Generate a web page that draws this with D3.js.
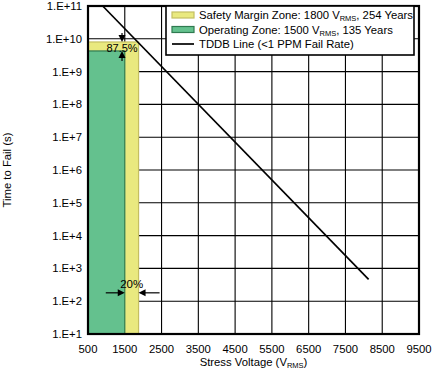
<!DOCTYPE html>
<html>
<head>
<meta charset="utf-8">
<script src="https://cdn.jsdelivr.net/npm/d3@7"></script>
<style>
  body { margin: 0; background: #fff; }
  svg text { font-family: "Liberation Sans", Arial, sans-serif; fill: #000; }
</style>
</head>
<body>
<div id="chart"></div>
<script>
// Axis ticks
var xTicks = [500, 1500, 2500, 3500, 4500, 5500, 6500, 7500, 8500, 9500];
var yTicks = [1e1, 1e2, 1e3, 1e4, 1e5, 1e6, 1e7, 1e8, 1e9, 1e10, 1e11];
var yTickLabels = ["1.E+1", "1.E+2", "1.E+3", "1.E+4", "1.E+5", "1.E+6", "1.E+7", "1.E+8", "1.E+9", "1.E+10", "1.E+11"];

// Zones (safety margin drawn first, operating zone on top)
var zoneNames = ["Safety Margin Zone", "Operating Zone"];
var zoneVoltage = [1875, 1500];
var zoneTime = [8.0e9, 4.26e9];
var zoneFill = ["#e9e97f", "#64c18e"];
var zoneStroke = ["#c4bf62", "#2f7a50"];

// TDDB line end points
var tddbVoltage = [900, 8130];
var tddbTime = [1.0e11, 4.6e2];

// Legend rows: before subscript, subscript, after subscript
var legendText = [
    ["Safety Margin Zone: 1800 V", "RMS", ", 254 Years"],
    ["Operating Zone: 1500 V", "RMS", ", 135 Years"],
    ["TDDB Line (<1 PPM Fail Rate)", "", ""]
];

var svgWidth = 436, svgHeight = 371;
var margin = { top: 6, right: 17, bottom: 37, left: 88 };
var chartWidth = svgWidth - margin.left - margin.right;
var chartHeight = svgHeight - margin.top - margin.bottom;

var svg = d3.select("#chart").append("svg")
    .attr("width", svgWidth)
    .attr("height", svgHeight);

var chartGroup = svg.append("g")
    .attr("transform", `translate(${margin.left}, ${margin.top})`);

var xScale = d3.scaleLinear().domain([500, 9500]).range([0, chartWidth]);
var yScale = d3.scaleLog().domain([1e1, 1e11]).range([chartHeight, 0]);

// grid lines
chartGroup.append("g")
    .selectAll("line")
    .data(xTicks)
    .enter()
    .append("line")
    .attr("x1", d => xScale(d)).attr("x2", d => xScale(d))
    .attr("y1", 0).attr("y2", chartHeight)
    .attr("stroke", "#000").attr("stroke-width", 1.1);

chartGroup.append("g")
    .selectAll("line")
    .data(yTicks)
    .enter()
    .append("line")
    .attr("x1", 0).attr("x2", chartWidth)
    .attr("y1", d => yScale(d)).attr("y2", d => yScale(d))
    .attr("stroke", "#000").attr("stroke-width", 1.1);

// zones
chartGroup.append("g")
    .selectAll("rect")
    .data(zoneNames)
    .enter()
    .append("rect")
    .attr("x", 0)
    .attr("y", (d, i) => yScale(zoneTime[i]))
    .attr("width", (d, i) => xScale(zoneVoltage[i]))
    .attr("height", (d, i) => chartHeight - yScale(zoneTime[i]))
    .attr("fill", (d, i) => zoneFill[i])
    .attr("stroke", (d, i) => zoneStroke[i])
    .attr("stroke-width", 1.2);

// TDDB line
var line = d3.line()
    .x(d => xScale(d[0]))
    .y(d => yScale(d[1]));
chartGroup.append("path")
    .datum(tddbVoltage.map((v, i) => [v, tddbTime[i]]))
    .attr("d", line)
    .attr("fill", "none")
    .attr("stroke", "#000")
    .attr("stroke-width", 1.7);

// frame
chartGroup.append("rect")
    .attr("x", 0).attr("y", 0)
    .attr("width", chartWidth).attr("height", chartHeight)
    .attr("fill", "none")
    .attr("stroke", "#000")
    .attr("stroke-width", 2.2);

// arrow head helper
function arrowHead(g, x, y, dir) {
    var pts;
    if (dir === "down") pts = [[x, y], [x - 3.5, y - 7], [x + 3.5, y - 7]];
    if (dir === "up") pts = [[x, y], [x - 3.5, y + 7], [x + 3.5, y + 7]];
    if (dir === "right") pts = [[x, y], [x - 7, y - 3.5], [x - 7, y + 3.5]];
    if (dir === "left") pts = [[x, y], [x + 7, y - 3.5], [x + 7, y + 3.5]];
    g.append("path").attr("d", "M" + pts.join("L") + "Z").attr("fill", "#000");
}

// 87.5% annotation
var ann = chartGroup.append("g");
var arrowX = xScale(1425);
var topY = yScale(zoneTime[0]);
var opY = yScale(zoneTime[1]);
ann.append("line").attr("x1", arrowX).attr("x2", arrowX)
    .attr("y1", topY - 9).attr("y2", topY - 2)
    .attr("stroke", "#000").attr("stroke-width", 1.2);
arrowHead(ann, arrowX, topY, "down");
ann.append("line").attr("x1", arrowX).attr("x2", arrowX)
    .attr("y1", opY + 2).attr("y2", opY + 10)
    .attr("stroke", "#000").attr("stroke-width", 1.2);
arrowHead(ann, arrowX, opY, "up");
ann.append("text")
    .attr("x", xScale(1425)).attr("y", opY + 1)
    .attr("text-anchor", "middle")
    .style("font-size", "11px")
    .text("87.5%");

// 20% annotation
var arrowY = yScale(1.8e2);
var opX = xScale(zoneVoltage[1]);
var sfX = xScale(zoneVoltage[0]);
ann.append("line").attr("x1", opX - 19).attr("x2", opX - 2)
    .attr("y1", arrowY).attr("y2", arrowY)
    .attr("stroke", "#000").attr("stroke-width", 1.2);
arrowHead(ann, opX, arrowY, "right");
ann.append("line").attr("x1", sfX + 2).attr("x2", sfX + 21)
    .attr("y1", arrowY).attr("y2", arrowY)
    .attr("stroke", "#000").attr("stroke-width", 1.2);
arrowHead(ann, sfX, arrowY, "left");
ann.append("text")
    .attr("x", (opX + sfX) / 2).attr("y", arrowY - 5)
    .attr("text-anchor", "middle")
    .style("font-size", "11.5px")
    .text("20%");

// tick labels
svg.append("g")
    .selectAll("text")
    .data(xTicks)
    .enter()
    .append("text")
    .attr("x", d => margin.left + xScale(d))
    .attr("y", margin.top + chartHeight + 19)
    .attr("text-anchor", "middle")
    .style("font-size", "11.3px")
    .text(d => d);

svg.append("g")
    .selectAll("text")
    .data(yTicks)
    .enter()
    .append("text")
    .attr("x", margin.left - 6)
    .attr("y", d => margin.top + yScale(d) + 4)
    .attr("text-anchor", "end")
    .style("font-size", "11.3px")
    .text((d, i) => yTickLabels[i]);

// axis titles
var xTitle = svg.append("text")
    .attr("x", margin.left + chartWidth / 2)
    .attr("y", 366)
    .attr("text-anchor", "middle")
    .style("font-size", "11.3px");
xTitle.append("tspan").text("Stress Voltage (V");
xTitle.append("tspan").style("font-size", "7.5px").attr("dy", 2).text("RMS");
xTitle.append("tspan").attr("dy", -2).text(")");

svg.append("text")
    .attr("transform", `translate(11, ${margin.top + chartHeight / 2}) rotate(-90)`)
    .attr("text-anchor", "middle")
    .style("font-size", "11.3px")
    .text("Time to Fail (s)");

// legend
var legend = chartGroup.append("g");
legend.append("rect")
    .attr("x", 78).attr("y", 0)
    .attr("width", 248).attr("height", 49)
    .attr("fill", "#fff")
    .attr("stroke", "#000")
    .attr("stroke-width", 1.6);

legendText.forEach(function (parts, i) {
    var rowY = 9 + i * 14.5;
    if (i < 2) {
        legend.append("rect")
            .attr("x", 84).attr("y", rowY - 3)
            .attr("width", 22).attr("height", 6)
            .attr("fill", zoneFill[i])
            .attr("stroke", zoneStroke[i])
            .attr("stroke-width", 1.2);
    } else {
        legend.append("line")
            .attr("x1", 84).attr("x2", 106)
            .attr("y1", rowY).attr("y2", rowY)
            .attr("stroke", "#000").attr("stroke-width", 1.7);
    }
    var t = legend.append("text")
        .attr("x", 111).attr("y", rowY + 4)
        .style("font-size", "11.3px");
    t.append("tspan").text(parts[0]);
    if (parts[1]) {
        t.append("tspan").style("font-size", "7.5px").attr("dy", 2).text(parts[1]);
        t.append("tspan").attr("dy", -2).text(parts[2]);
    }
});
</script>
</body>
</html>
